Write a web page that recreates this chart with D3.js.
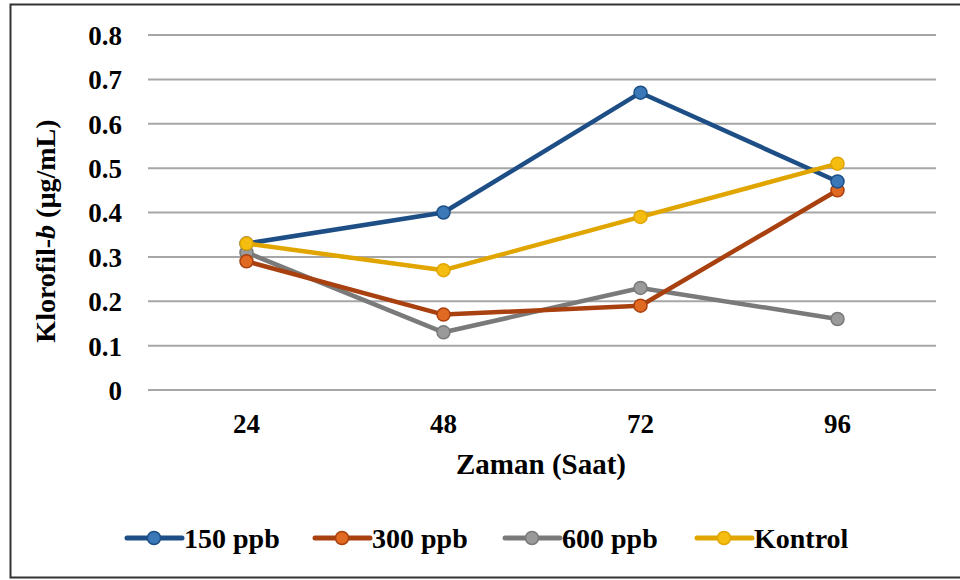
<!DOCTYPE html>
<html>
<head>
<meta charset="utf-8">
<script src="https://cdn.jsdelivr.net/npm/d3@7"></script>
<style>
  body { margin: 0; background: #fff; }
  svg text { font-family: "Times New Roman", "Liberation Serif", "DejaVu Serif", serif !important; font-weight: bold; fill: #000; }
</style>
</head>
<body>
<div id="chart"></div>
<script>
// data
var hours = ["24", "48", "72", "96"];
var yTicks = [0, 0.1, 0.2, 0.3, 0.4, 0.5, 0.6, 0.7, 0.8];
var seriesNames = ["150 ppb", "300 ppb", "600 ppb", "Kontrol"];
var v150 = [0.33, 0.40, 0.67, 0.47];
var v300 = [0.29, 0.17, 0.19, 0.45];
var v600 = [0.31, 0.13, 0.23, 0.16];
var vKontrol = [0.33, 0.27, 0.39, 0.51];

var lineColors = ["#1d4f86", "#a9400f", "#7a7a7a", "#e1a500"];
var dotColors = ["#3a78b8", "#e06a22", "#9a9a9a", "#f5bd10"];

var width = 960, height = 580;
var plotLeft = 148, plotRight = 936, plotTop = 35, plotBottom = 390;

var svg = d3.select("#chart").append("svg")
    .attr("width", width)
    .attr("height", height);

// frame
svg.append("path")
    .attr("d", "M966,4.5H10.5V577.5H966")
    .attr("fill", "none")
    .attr("stroke", "#333")
    .attr("stroke-width", 2);

var x = d3.scaleBand().domain(hours).range([plotLeft, plotRight]);
var y = d3.scaleLinear().domain([0, 0.8]).range([plotBottom, plotTop]);

// gridlines
svg.append("g").selectAll("line")
    .data(yTicks)
    .enter().append("line")
    .attr("x1", plotLeft).attr("x2", plotRight)
    .attr("y1", function(d) { return y(d); })
    .attr("y2", function(d) { return y(d); })
    .style("stroke", "#a6a6a6")
    .style("stroke-width", 2);

// y axis labels
var yAxis = svg.append("g")
    .attr("transform", "translate(" + (plotLeft - 10) + ",0)")
    .call(d3.axisLeft(y).tickValues(yTicks).tickSize(0).tickPadding(16)
      .tickFormat(function(d) { return d === 0 ? "0" : d3.format(".1f")(d); }));
yAxis.select(".domain").remove();
yAxis.attr("font-family", null);
yAxis.selectAll("text").style("font-size", "27px").attr("dy", "0.35em");

// x axis labels
var xAxis = svg.append("g")
    .attr("transform", "translate(0," + plotBottom + ")")
    .call(d3.axisBottom(x).tickSize(0).tickPadding(24));
xAxis.select(".domain").remove();
xAxis.attr("font-family", null);
xAxis.selectAll("text").style("font-size", "27px");

svg.append("text")
    .attr("x", 541).attr("y", 474)
    .attr("text-anchor", "middle")
    .style("font-size", "29px")
    .text("Zaman (Saat)");

var yt = svg.append("text")
    .attr("transform", "translate(55,231) rotate(-90)")
    .attr("text-anchor", "middle")
    .style("font-size", "28px");
yt.append("tspan").text("Klorofil-");
yt.append("tspan").style("font-style", "italic").text("b");
yt.append("tspan").text(" (µg/mL)");

// series
var series = [v150, v300, v600, vKontrol].map(function(vals, i) {
  return { name: seriesNames[i], values: vals, i: i };
});

var line = d3.line()
    .x(function(d, j) { return x(hours[j]) + x.bandwidth() / 2; })
    .y(function(d) { return y(d); });

var order = [2, 1, 0, 3];
order.forEach(function(i) {
  var s = series[i];
  var g = svg.append("g");
  g.append("path")
      .datum(s.values)
      .attr("d", line)
      .attr("fill", "none")
      .attr("stroke", lineColors[i])
      .attr("stroke-width", 4.5)
      .attr("stroke-linejoin", "round");
  g.selectAll("circle")
      .data(s.values)
      .enter().append("circle")
      .attr("cx", function(d, j) { return x(hours[j]) + x.bandwidth() / 2; })
      .attr("cy", function(d) { return y(d); })
      .attr("r", 6.5)
      .attr("fill", dotColors[i])
      .attr("stroke", lineColors[i])
      .attr("stroke-width", 1.5);
});

// legend
var legendX = [127, 315, 505, 697];
var legend = svg.append("g").selectAll("g")
    .data(series)
    .enter().append("g")
    .attr("transform", function(d, i) { return "translate(" + legendX[i] + ",538)"; });
legend.append("line")
    .attr("x1", 0).attr("x2", 55)
    .attr("stroke", function(d) { return lineColors[d.i]; })
    .attr("stroke-width", 5)
    .attr("stroke-linecap", "round");
legend.append("circle")
    .attr("cx", 27).attr("r", 6.5)
    .attr("fill", function(d) { return dotColors[d.i]; })
    .attr("stroke", function(d) { return lineColors[d.i]; })
    .attr("stroke-width", 1.5);
legend.append("text")
    .attr("x", 57).attr("dy", "0.35em")
    .style("font-size", "28px")
    .text(function(d) { return d.name; });
</script>
</body>
</html>
